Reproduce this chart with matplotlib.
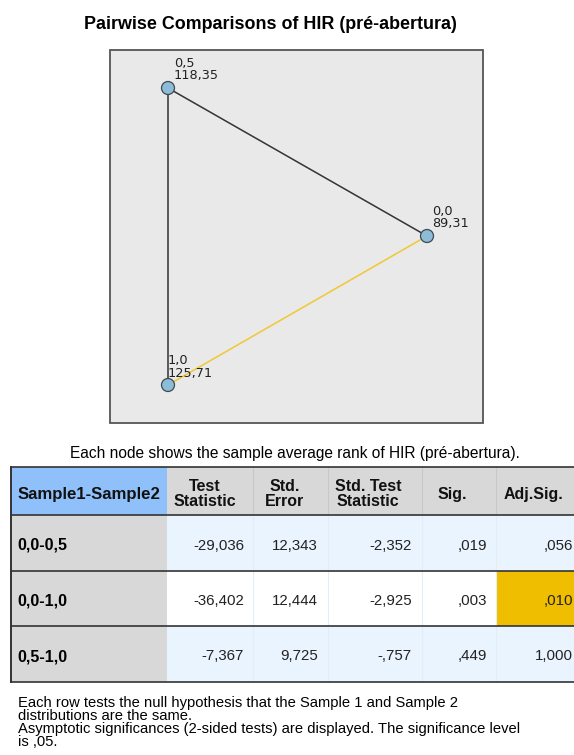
import matplotlib
matplotlib.use('Agg')
import matplotlib.pyplot as plt
from matplotlib.patches import Rectangle, Circle

plt.rcParams['font.family'] = ['Liberation Sans', 'DejaVu Sans']

# mean ranks per group
groups = ['0,0', '0,5', '1,0']
mean_ranks = [89.31, 118.35, 125.71]

# pairwise comparisons
pairs = [('0,0', '0,5'), ('0,0', '1,0'), ('0,5', '1,0')]
test_stat = [-29.036, -36.402, -7.367]
std_err = [12.343, 12.444, 9.725]
std_test = [-2.352, -2.925, -0.757]
sig = [0.019, 0.003, 0.449]
adj_sig = [0.056, 0.010, 1.000]
alpha = 0.05

headers = ['Sample1-Sample2', 'Test\nStatistic', 'Std.\nError', 'Std. Test\nStatistic', 'Sig.', 'Adj.Sig.']

# node placement inside the network panel (pixels) and label x offset
node_xy = {'0,5': (168, 88), '0,0': (427, 236), '1,0': (168, 385)}
label_dx = {'0,5': 6, '0,0': 5, '1,0': 0}


def spss(v, d=3):
    s = f"{v:.{d}f}".replace('.', ',')
    if s.startswith('0,'):
        s = s[1:]
    elif s.startswith('-0,'):
        s = '-' + s[2:]
    return s


fig = plt.figure(figsize=(5.74, 7.55), dpi=100)
ax = fig.add_axes([0, 0, 1, 1])
ax.set_xlim(0, 574)
ax.set_ylim(755, 0)
ax.axis('off')

ax.text(270, 29, 'Pairwise Comparisons of HIR (pré-abertura)', ha='center', va='baseline',
        fontsize=12.9, fontweight='bold')

# network panel
ax.add_patch(Rectangle((110, 50), 373, 373, facecolor='#e9e9e9', edgecolor='#555555', lw=1.3))

for (a, b), p in zip(pairs, adj_sig):
    col = '#f0c832' if p < alpha else '#333333'
    (x1, y1), (x2, y2) = node_xy[a], node_xy[b]
    ax.plot([x1, x2], [y1, y2], color=col, lw=1.1, zorder=2)

for g, r in zip(groups, mean_ranks):
    x, y = node_xy[g]
    ax.add_patch(Circle((x, y), 6.5, facecolor='#8dbcd7', edgecolor='#3d4a55', lw=0.9, zorder=3))
    lx = x + label_dx[g]
    ax.text(lx, y - 21, g, ha='left', va='baseline', fontsize=9.3,
            family='DejaVu Sans', color='#222222')
    ax.text(lx, y - 8.5, spss(r, 2), ha='left', va='baseline', fontsize=9.3,
            family='DejaVu Sans', color='#222222')

ax.text(295, 458, 'Each node shows the sample average rank of HIR (pré-abertura).',
        ha='center', va='baseline', fontsize=11.2)

# table
col_edges = [11, 167, 253, 328, 422, 496, 580]
row_edges = [467, 515, 571, 626, 682]
light = '#eaf4fe'
ax.add_patch(Rectangle((11, 467), 156, 48, facecolor='#8fc0f9', edgecolor='none'))
ax.add_patch(Rectangle((167, 467), 413, 48, facecolor='#d8d8d8', edgecolor='none'))
for i in range(len(pairs)):
    y0, y1 = row_edges[i + 1], row_edges[i + 2]
    ax.add_patch(Rectangle((11, y0), 156, y1 - y0, facecolor='#d8d8d8', edgecolor='none'))
    bg = light if i != 1 else 'white'
    ax.add_patch(Rectangle((167, y0), 413, y1 - y0, facecolor=bg, edgecolor='none'))
    if adj_sig[i] < alpha:
        ax.add_patch(Rectangle((496, y0), 84, y1 - y0, facecolor='#f0be00', edgecolor='none'))

for x in col_edges[2:-1]:
    ax.plot([x, x], [467, 515], color='#c8c8c8', lw=0.8)
    ax.plot([x, x], [515, 682], color='#e4edf6', lw=0.8)
for y in row_edges:
    ax.plot([11, 580], [y, y], color='#333333', lw=1.2)
ax.plot([11, 11], [467, 682], color='#333333', lw=1.4)

hx = [89, 205, 285, 368, 452, 533]
for k, (x, h) in enumerate(zip(hx, headers)):
    ax.text(x, 494, h, ha='center', va='center', fontsize=12.1 if k == 0 else 11.5,
            fontweight='bold', linespacing=0.92, color='#111111')

right = [244, 318, 412, 487, 573]
for i, (a, b) in enumerate(pairs):
    yc = (row_edges[i + 1] + row_edges[i + 2]) / 2 + 2.5
    ax.text(17, yc, a + '-' + b, ha='left', va='center', fontsize=11.5, fontweight='bold')
    vals = [test_stat[i], std_err[i], std_test[i], sig[i], adj_sig[i]]
    for x, v in zip(right, vals):
        ax.text(x, yc, spss(v), ha='right', va='center', fontsize=10.8, color='#222222')

notes = ['Each row tests the null hypothesis that the Sample 1 and Sample 2',
         'distributions are the same.',
         'Asymptotic significances (2-sided tests) are displayed. The significance level',
         'is ,05.']
for k, t in enumerate(notes):
    ax.text(18, 707 + 13.1 * k, t, ha='left', va='baseline', fontsize=10.6)

fig.savefig('out.png', dpi=100)
